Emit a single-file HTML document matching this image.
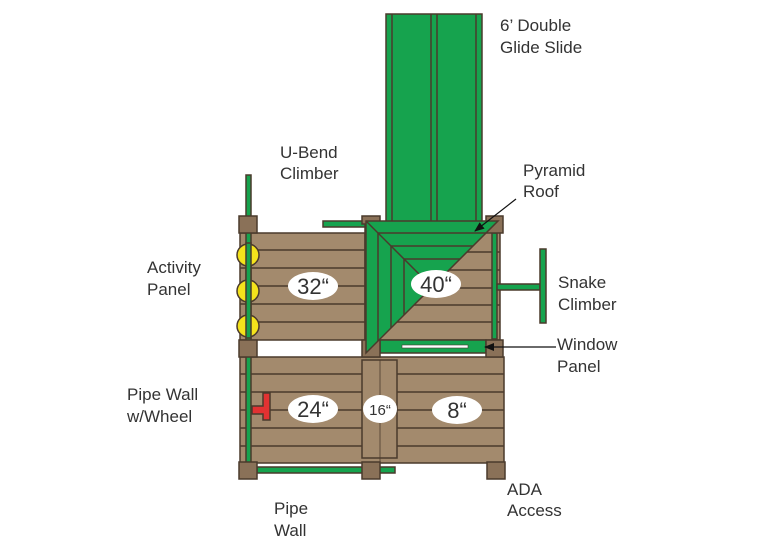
<!DOCTYPE html>
<html><head><meta charset="utf-8"><style>
html,body{margin:0;padding:0;background:#fff;}
svg{display:block;}
text{font-family:"Liberation Sans",Arial,sans-serif;font-size:17px;fill:#333;}
.lbl{font-size:22px;fill:#333;text-anchor:middle;}
</style></head><body>
<svg width="768" height="548" viewBox="0 0 768 548" xmlns="http://www.w3.org/2000/svg">
<defs><marker id="ah" markerWidth="10" markerHeight="8" refX="9" refY="4" orient="auto" markerUnits="userSpaceOnUse"><path d="M0,0 L10,4 L0,8 z" fill="#111"/></marker></defs>
<g stroke="#4a3a2c" stroke-width="1.5">
<rect x="386" y="14" width="96" height="210" fill="#16a34e"/>
<line x1="392" y1="14" x2="392" y2="224"/><line x1="431" y1="14" x2="431" y2="224"/>
<line x1="437" y1="14" x2="437" y2="224"/><line x1="476" y1="14" x2="476" y2="224"/>
<rect x="240" y="233" width="125" height="107" fill="#a38a6d"/>
<line x1="240" y1="250" x2="365" y2="250"/><line x1="240" y1="268" x2="365" y2="268"/>
<line x1="240" y1="286" x2="365" y2="286"/><line x1="240" y1="304" x2="365" y2="304"/>
<line x1="240" y1="322" x2="365" y2="322"/>
<rect x="365" y="222" width="135" height="118" fill="#a38a6d"/>
<line x1="365" y1="252" x2="500" y2="252"/><line x1="365" y1="270" x2="500" y2="270"/>
<line x1="365" y1="288" x2="500" y2="288"/><line x1="365" y1="305" x2="500" y2="305"/>
<line x1="365" y1="322" x2="500" y2="322"/>
<rect x="240" y="357" width="264" height="106" fill="#a38a6d"/>
<line x1="240" y1="374" x2="504" y2="374"/><line x1="240" y1="392" x2="504" y2="392"/>
<line x1="240" y1="410" x2="504" y2="410"/><line x1="240" y1="428" x2="504" y2="428"/>
<line x1="240" y1="446" x2="504" y2="446"/>
<rect x="362" y="360" width="35" height="98" fill="#a38a6d"/>
<line x1="380" y1="360" x2="380" y2="462" stroke-width="0.8"/>
<rect x="246" y="175" width="5" height="288" fill="#16a34e"/>
<rect x="323" y="221" width="42" height="6" fill="#16a34e"/>
<rect x="492" y="233" width="5" height="106" fill="#16a34e"/>
<rect x="497" y="284" width="43" height="6" fill="#16a34e"/>
<rect x="540" y="249" width="6" height="74" fill="#16a34e"/>
<rect x="257" y="467" width="138" height="6" fill="#16a34e"/>
<rect x="380" y="340" width="106" height="13" fill="#16a34e"/>
<rect x="402" y="345" width="66" height="3" fill="#fff" stroke-width="0.6"/>
<rect x="239" y="216" width="18" height="17" fill="#8a7158"/>
<rect x="362" y="216" width="18" height="8" fill="#8a7158"/>
<rect x="486" y="216" width="17" height="17" fill="#8a7158"/>
<rect x="239" y="340" width="18" height="17" fill="#8a7158"/>
<rect x="362" y="340" width="18" height="17" fill="#8a7158"/>
<rect x="486" y="340" width="17" height="17" fill="#8a7158"/>
<rect x="239" y="462" width="18" height="17" fill="#8a7158"/>
<rect x="362" y="462" width="18" height="17" fill="#8a7158"/>
<rect x="487" y="462" width="18" height="17" fill="#8a7158"/>
<polygon points="366,221 498,221 366,353" fill="#16a34e"/>
<line x1="378" y1="233" x2="486" y2="233"/><line x1="378" y1="233" x2="378" y2="341"/>
<line x1="391" y1="246" x2="473" y2="246"/><line x1="391" y1="246" x2="391" y2="328"/>
<line x1="404" y1="259" x2="460" y2="259"/><line x1="404" y1="259" x2="404" y2="315"/>
<line x1="366" y1="221" x2="428" y2="283"/>
<circle cx="248" cy="255" r="11" fill="#f4e31c"/>
<circle cx="248" cy="291" r="11" fill="#f4e31c"/>
<circle cx="248" cy="326" r="11" fill="#f4e31c"/>
<rect x="246" y="243" width="5" height="95" fill="#16a34e"/>
<path d="M263,393 h7 v27 h-7 v-6 h-11 v-8 h11 z" fill="#e23232"/>
</g>
<ellipse cx="313" cy="286" rx="25" ry="14" fill="#fff"/>
<ellipse cx="436" cy="284" rx="25" ry="14" fill="#fff"/>
<ellipse cx="313" cy="409" rx="25" ry="14" fill="#fff"/>
<ellipse cx="380" cy="409" rx="17" ry="14" fill="#fff"/>
<ellipse cx="457" cy="410" rx="25" ry="14" fill="#fff"/>
<text class="lbl" x="313" y="294">32“</text>
<text class="lbl" x="436" y="292">40“</text>
<text class="lbl" x="313" y="417">24“</text>
<text class="lbl" x="380" y="415" style="font-size:15px">16“</text>
<text class="lbl" x="457" y="418">8“</text>
<line x1="516" y1="199" x2="475" y2="231" stroke="#111" stroke-width="1.2" marker-end="url(#ah)"/>
<line x1="556" y1="347" x2="485" y2="347" stroke="#111" stroke-width="1.2" marker-end="url(#ah)"/>
<text x="500" y="31">6’ Double</text><text x="500" y="53">Glide Slide</text>
<text x="280" y="158">U-Bend</text><text x="280" y="179">Climber</text>
<text x="523" y="176">Pyramid</text><text x="523" y="197">Roof</text>
<text x="147" y="273">Activity</text><text x="147" y="295">Panel</text>
<text x="558" y="288">Snake</text><text x="558" y="310">Climber</text>
<text x="557" y="350">Window</text><text x="557" y="372">Panel</text>
<text x="127" y="400">Pipe Wall</text><text x="127" y="422">w/Wheel</text>
<text x="274" y="514">Pipe</text><text x="274" y="536">Wall</text>
<text x="507" y="495">ADA</text><text x="507" y="516">Access</text>
</svg>
</body></html>
